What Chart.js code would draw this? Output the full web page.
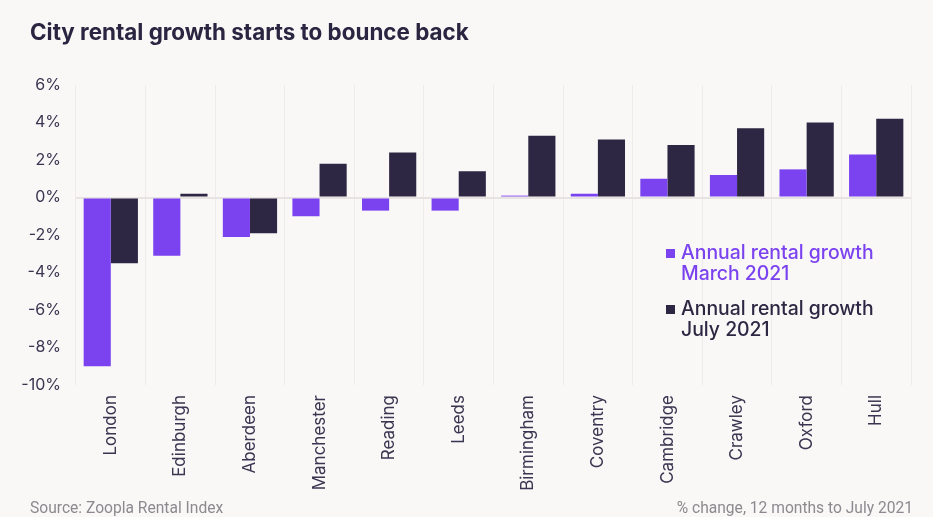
<!DOCTYPE html>
<html>
<head>
<meta charset="utf-8">
<script src="https://cdn.jsdelivr.net/npm/chart.js@4.4.0/dist/chart.umd.min.js"></script>
<style>
  html, body { margin: 0; padding: 0; background: #f9f8f7; }
  #wrap { width: 933px; height: 517px; position: relative; }
</style>
</head>
<body>
<div id="wrap"><canvas id="myChart"></canvas></div>
<script>
// cities along the x axis
var cities = ['London', 'Edinburgh', 'Aberdeen', 'Manchester', 'Reading', 'Leeds',
  'Birmingham', 'Coventry', 'Cambridge', 'Crawley', 'Oxford', 'Hull'];
// annual rental growth, %
var march2021 = [-9.0, -3.1, -2.1, -1.0, -0.7, -0.7, 0.1, 0.2, 1.0, 1.2, 1.5, 2.3];
var july2021 = [-3.5, 0.2, -1.9, 1.8, 2.4, 1.4, 3.3, 3.1, 2.8, 3.7, 4.0, 4.2];
// legend labels, one line per entry
var marchLabel = ['Annual rental growth', 'March 2021'];
var julyLabel = ['Annual rental growth', 'July 2021'];

var titleText = 'City rental growth starts to bounce back';
var sourceText = 'Source: Zoopla Rental Index';
var noteText = '% change, 12 months to July 2021';

var purple = '#7b42f0';
var dark = '#2e2743';
var textCol = '#3a3550';

// title, footer and the legend inside the plot
var extras = {
  id: 'extras',
  afterDraw: function (chart) {
    var c = chart.ctx;
    c.save();
    c.textBaseline = 'alphabetic';
    c.fillStyle = '#2a2540';
    c.font = 'bold 22.4px Inter, sans-serif';
    c.textAlign = 'left';
    c.fillText(titleText, 30, 40);

    c.fillStyle = '#8c8a8f';
    c.font = '15.6px Roboto, sans-serif';
    c.fillText(sourceText, 30, 513);
    c.textAlign = 'right';
    c.fillText(noteText, 913, 513);

    // legend
    c.textAlign = 'left';
    c.font = '500 19.4px Inter, sans-serif';
    var y = 259;
    chart.data.datasets.forEach(function (ds) {
      c.fillStyle = ds.backgroundColor;
      c.fillRect(666, y - 10, 9, 9);
      ds.label.forEach(function (line, i) {
        c.fillText(line, 681, y + i * 21);
      });
      y += 56;
    });
    c.restore();
  }
};

var ctx = document.getElementById('myChart').getContext('2d');
var myChart = new Chart(ctx, {
  type: 'bar',
  data: {
    labels: cities,
    datasets: [{
      label: marchLabel,
      data: march2021,
      backgroundColor: purple,
      borderWidth: 0
    }, {
      label: julyLabel,
      data: july2021,
      backgroundColor: dark,
      borderWidth: 0
    }]
  },
  options: {
    responsive: true,
    maintainAspectRatio: false,
    animation: false,
    layout: { padding: { top: 85, right: 22, left: 0, bottom: 0 } },
    plugins: {
      legend: { display: false },
      tooltip: { enabled: false }
    },
    datasets: { bar: { categoryPercentage: 0.78, barPercentage: 1 } },
    scales: {
      x: {
        afterFit: function (s) { s.height = 132; },
        grid: { offset: true, color: '#eeecea', drawTicks: false },
        border: { display: false },
        ticks: {
          minRotation: 90, maxRotation: 90, padding: 10,
          color: textCol,
          font: { family: 'Inter, sans-serif', size: 17 }
        }
      },
      y: {
        min: -10, max: 6,
        afterFit: function (s) { s.width = 76; },
        grid: {
          drawTicks: false,
          lineWidth: 2,
          color: function (c) { return c.tick && c.tick.value === 0 ? '#e6e3e2' : 'transparent'; }
        },
        border: { display: false },
        ticks: {
          stepSize: 2, padding: 15,
          color: textCol,
          font: { family: 'Inter, sans-serif', size: 16 },
          callback: function (v) { return v + '%'; }
        }
      }
    }
  },
  plugins: [extras]
});
</script>
</body>
</html>
